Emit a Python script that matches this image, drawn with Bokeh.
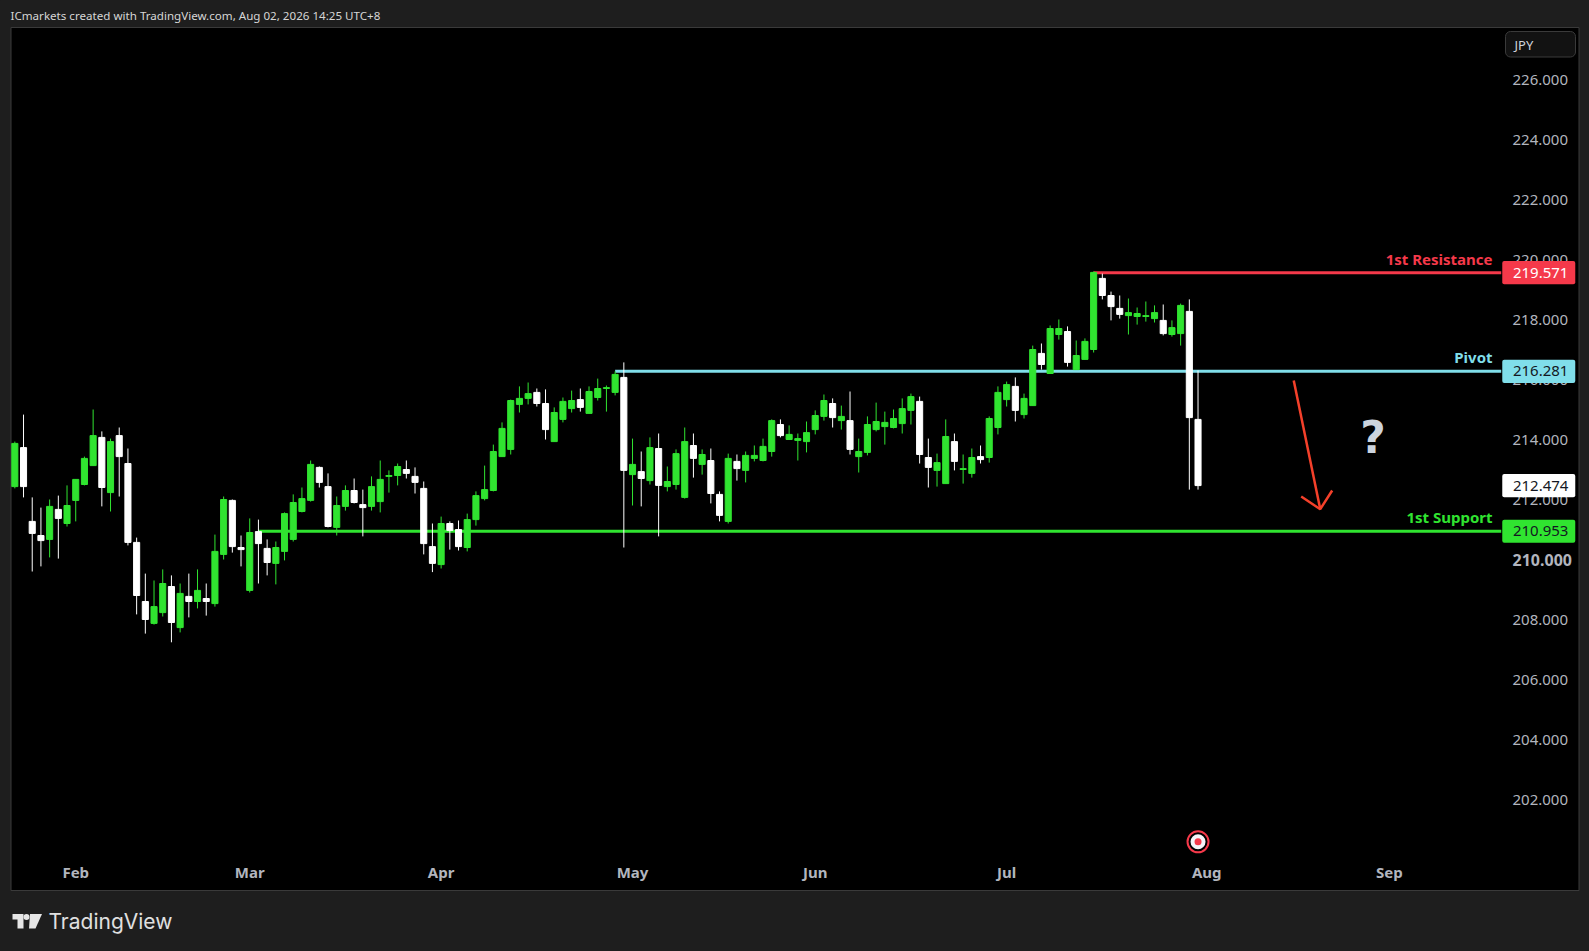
from bokeh.plotting import figure
from bokeh.embed import file_html
from bokeh.resources import INLINE
from bokeh.models import Range1d, LinearAxis, FixedTicker, PrintfTickFormatter, ColumnDataSource
from bokeh.core.properties import value

FONT = "Noto Sans"
BG = "#1e1e1e"
GREEN = "#30e430"
RED = "#f5394a"
CYAN = "#80deea"
AXIS_TEXT = "#b2b5be"

# ---- daily candles (JPY) ----
highs = [213.94,214.84,212.08,211.74,212.01,212.14,212.48,212.68,213.44,215.01,214.28,214.04,214.41,213.71,210.74,209.54,209.31,209.68,209.48,209.21,209.54,209.68,209.21,210.84,212.11,212.01,210.81,211.38,211.34,210.68,210.61,211.58,212.18,212.41,213.31,
         213.11,212.88,212.11,212.48,212.71,212.34,212.78,213.31,212.98,213.21,213.31,213.08,212.61,211.21,211.44,211.28,211.31,211.54,212.28,213.14,213.84,214.58,215.34,215.78,215.91,215.71,215.68,215.08,215.41,215.64,215.71,215.78,216.04,215.81,216.28,
         216.58,214.04,213.61,214.08,214.21,213.11,213.68,214.41,214.21,213.68,213.71,212.28,213.54,213.51,213.61,213.81,214.04,214.68,214.68,214.48,214.21,214.61,214.98,215.51,215.38,215.14,215.61,214.04,214.78,215.24,214.94,215.01,215.38,215.54,
         215.44,214.04,213.54,214.68,214.21,213.51,213.71,213.81,214.78,215.78,215.94,216.08,215.54,217.14,217.21,217.81,218.01,217.78,217.31,217.38,219.61,219.54,218.94,218.81,218.71,218.41,218.61,218.48,218.51,217.98,218.54,218.68,216.31]
body_highs = [213.88,213.74,211.28,210.81,211.78,211.68,211.81,212.68,213.38,214.14,214.08,213.94,214.14,213.21,210.58,208.61,208.44,209.21,209.11,208.88,208.78,208.98,208.71,210.28,212.01,211.98,210.41,210.91,210.94,210.38,210.41,211.54,211.91,212.04,213.18,
              213.08,212.44,211.81,212.31,212.31,211.84,212.44,212.68,212.81,213.11,213.01,212.78,212.38,210.44,211.21,211.21,211.01,211.34,212.14,212.34,213.61,214.38,215.31,215.38,215.54,215.58,215.21,214.91,215.28,215.31,215.34,215.61,215.71,215.74,216.18,
              216.08,213.18,212.94,213.74,213.71,212.61,213.54,213.94,213.81,213.51,213.31,212.18,213.38,213.28,213.48,213.48,213.78,214.64,214.51,214.18,214.04,214.24,214.81,215.31,215.21,214.78,214.64,213.61,214.51,214.61,214.58,214.71,215.04,215.44,
              215.28,213.41,213.24,214.11,213.94,213.04,213.41,213.44,214.71,215.58,215.84,215.78,215.38,217.01,216.88,217.71,217.71,217.61,216.81,217.28,219.58,219.38,218.81,218.38,218.24,218.21,218.14,218.24,217.98,217.74,218.48,218.28,214.68]
body_lows = [212.44,212.44,210.88,210.64,210.68,211.38,211.21,211.98,212.51,213.14,212.41,212.24,213.44,210.58,208.81,208.01,207.88,208.24,207.91,207.74,208.61,208.61,208.61,208.54,210.18,210.44,210.34,208.98,210.54,209.91,209.88,210.28,210.68,211.61,211.98,
             212.58,211.11,211.08,211.78,211.91,211.74,211.78,211.94,212.78,212.81,212.88,212.58,210.54,209.88,209.84,210.98,210.44,210.41,211.34,212.04,212.31,213.44,213.68,215.18,215.38,215.21,214.34,213.94,214.68,215.04,215.08,214.88,215.41,215.71,215.58,
             212.98,212.84,212.71,212.64,212.48,212.44,212.51,212.08,213.38,213.18,212.21,211.48,211.28,213.04,212.98,213.38,213.31,213.61,214.14,214.01,213.98,213.94,214.34,214.78,214.74,214.64,213.68,213.44,213.58,214.34,214.44,214.41,214.54,214.98,
             213.51,213.08,212.98,212.54,213.28,213.01,212.88,213.34,213.41,214.41,215.34,214.98,214.84,215.14,216.51,216.21,217.51,216.58,216.34,216.68,217.01,218.81,218.44,218.18,218.14,218.11,218.11,218.04,217.54,217.51,217.54,214.74,212.474]
lows = [212.38,212.08,209.61,209.78,210.08,210.04,211.11,211.28,212.48,213.14,211.78,211.61,212.11,210.48,208.18,207.54,207.84,208.11,207.25,207.58,208.08,208.38,208.14,208.44,210.01,210.24,209.78,208.91,209.21,209.48,209.18,209.98,210.61,211.58,211.94,
        212.41,211.08,210.81,211.64,211.88,210.78,211.64,211.58,212.24,212.48,212.71,212.21,210.18,209.59,209.71,210.34,210.31,210.28,211.14,211.98,212.28,213.44,213.51,214.91,215.18,215.11,214.01,213.94,214.58,214.91,214.94,214.88,215.31,214.94,215.48,
        210.41,211.81,211.78,212.51,210.78,212.28,212.34,212.04,212.74,212.84,211.88,211.28,211.21,212.64,212.58,213.28,213.28,213.44,214.08,214.01,213.31,213.58,214.18,214.64,214.41,214.34,213.51,212.91,213.48,214.28,213.84,214.38,214.21,214.51,
        213.21,212.41,212.44,212.54,212.98,212.54,212.74,213.21,213.24,214.18,215.11,214.61,214.71,215.14,216.34,216.21,217.34,216.44,216.34,216.68,216.91,218.68,217.98,218.04,217.51,217.84,217.94,217.91,217.48,217.44,217.14,212.34,212.34]
# g = close above open, w = close below open; bars 1 to 137
directions = list(
    "gwwwgwgggg" "wgwwwwggwg" "wgwggwwgww" "gggggwwggw" "wggggwwwwg"
    "wwgggggggg" "wwgggwgggg" "wgwgwgggwg" "wwgwggggwg" "ggggwgwggg"
    "ggggwwggwg" "gwgggwggwg" "gwgggwwwgg" "ggwggww"
)
bars = list(range(len(highs)))
assert len(highs) == len(lows) == len(body_highs) == len(body_lows) == len(directions) == 137

month_bars = [7, 27, 49, 71, 92, 114, 137, 158]
month_names = ["Feb", "Mar", "Apr", "May", "Jun", "Jul", "Aug", "Sep"]
price_ticks = [202, 204, 206, 208, 212, 214, 216, 218, 220, 222, 224, 226]
major_price_tick = [210]

level_names = ["1st Resistance", "Pivot", "1st Support"]
level_prices = [219.571, 216.281, 210.953]
level_start_bars = [124, 69, 28]
level_colors = [RED, CYAN, GREEN]
level_text_colors = ["#ffffff", "#131722", "#131722"]
last_price = 212.474

arrow_bars = [147.0, 150.05]
arrow_prices = [215.977, 211.687]
arrowhead_bars = [147.86, 150.05, 151.42]
arrowhead_prices = [212.11, 211.687, 212.31]

# the scale: one bar = 8.7 px, one yen = 30 px; used for chrome placed by pixel
def bx(px): return (px - 14.33) / 8.7
def py(y): return 218 - (y - 319.3) / 30

p = figure(width=1589, height=951, output_backend="svg", toolbar_location=None,
           x_range=Range1d(bx(0), bx(1589)), y_range=Range1d(py(951), py(0)),
           x_axis_location=None, y_axis_location=None,
           min_border_left=0, min_border_right=0, min_border_top=0, min_border_bottom=0,
           background_fill_color=BG, border_fill_color=BG, outline_line_color=None)
p.grid.visible = False

# chart pane
p.quad(left=[bx(10.5)], right=[bx(1578.5)], top=[py(27)], bottom=[py(890)],
       fill_color="#000000", line_color="#3a3a3a", line_width=1)

# levels
LINE_END = 170.85
p.segment(x0=level_start_bars, x1=[LINE_END] * 3, y0=level_prices, y1=level_prices,
          line_color=level_colors, line_width=3)

# candles
colors = [GREEN if d == "g" else "#ffffff" for d in directions]
src = ColumnDataSource(dict(x=bars, h=highs, l=lows, t=body_highs, b=body_lows, c=colors))
p.segment(x0="x", x1="x", y0="l", y1="h", line_color="c", line_width=1, source=src)
p.vbar(x="x", width=0.7, top="t", bottom="b", fill_color="c", line_color="c", line_width=1, source=src)

# axes drawn inside the black pane
def price_axis(ticks, style, size):
    ax = LinearAxis(ticker=FixedTicker(ticks=ticks), formatter=PrintfTickFormatter(format="%.3f"),
                    fixed_location=172.15, axis_line_color=None, major_tick_line_color=None,
                    minor_tick_line_color=None, major_label_standoff=0,
                    major_tick_in=0, major_tick_out=0,
                    major_label_text_color=AXIS_TEXT, major_label_text_font=FONT,
                    major_label_text_font_size=size, major_label_text_font_style=style)
    p.add_layout(ax, "right")

price_axis(price_ticks, "normal", "15px")
price_axis(major_price_tick, "bold", "16px")

xax = LinearAxis(ticker=FixedTicker(ticks=month_bars),
                 major_label_overrides=dict(zip(month_bars, month_names)),
                 fixed_location=199.94, axis_line_color=None, major_tick_line_color=None,
                 minor_tick_line_color=None, major_label_standoff=0,
                 major_tick_in=0, major_tick_out=0,
                 major_label_text_color=AXIS_TEXT, major_label_text_font=FONT,
                 major_label_text_font_size="15px", major_label_text_font_style="bold")
p.add_layout(xax, "below")

# price tags
tag_prices = level_prices + [last_price]
tag_colors = level_colors + ["#ffffff"]
tag_text = level_text_colors + ["#131722"]
HALF = 0.385
p.quad(left=[170.97] * 4, right=[179.36] * 4,
       top=[v + HALF for v in tag_prices], bottom=[v - HALF for v in tag_prices],
       fill_color=tag_colors, line_color=None, border_radius=2, level="overlay")
p.text(x=[175.38] * 4, y=tag_prices, text=[f"{v:.3f}" for v in tag_prices], text_color=tag_text,
       text_font=value(FONT), text_font_size="15px", text_align="center", text_baseline="middle",
       level="overlay")
p.text(x=[169.85] * 3, y=level_prices, text=level_names, text_color=level_colors,
       y_offset=-14, text_font=value(FONT), text_font_size="15px", text_font_style="bold",
       text_align="right", text_baseline="middle", level="overlay")

# arrow and question mark
ARROW = "#f4402a"
p.line(arrow_bars, arrow_prices, line_color=ARROW, line_width=2.5)
p.line(arrowhead_bars, arrowhead_prices, line_color=ARROW, line_width=2.5)
p.text(x=[156.1], y=[214.09], text=["?"], text_color="#ccd4de", text_font=value("DejaVu Sans"),
       text_font_size="44px", text_font_style="bold", text_align="center", text_baseline="middle")

# marker under the last bar
p.scatter(x=[136], y=[200.6], size=21, marker="circle", fill_color="#000000", line_color=RED, line_width=2)
p.scatter(x=[136], y=[200.6], size=15, marker="circle", fill_color="#f4f4f8", line_color=None)
p.scatter(x=[136], y=[200.6], size=7, marker="circle", fill_color=RED, line_color=None)

# currency button
p.quad(left=[bx(1505)], right=[bx(1575)], top=[py(31)], bottom=[py(56.5)], fill_color="#121212",
       line_color="#3a3a3a", border_radius=5, level="overlay")
p.text(x=[bx(1514)], y=[py(44)], text=["JPY"], text_color="#d1d4dc", text_font=value(FONT),
       text_font_size="13px", text_align="left", text_baseline="middle", level="overlay")

# header and footer on the dark page background
p.text(x=[bx(10)], y=[py(15)], text=["ICmarkets created with TradingView.com, Aug 02, 2026 14:25 UTC+8"],
       text_color="#d6d6d6", text_font=value(FONT), text_font_size="11.6px",
       text_baseline="middle", text_align="left")
p.text(x=[bx(48)], y=[py(921)], text=["TradingView"], text_color="#e0e0e0", text_font=value("Inter"),
       text_font_size="21px", text_baseline="middle", text_align="left")

# TradingView mark
def logo(pts):
    p.patch([bx(a) for a, b in pts], [py(b) for a, b in pts], fill_color="#e6e6e6", line_color=None)
logo([(12, 913.5), (23, 913.5), (23, 928), (17, 928), (17, 919), (12, 919)])
logo([(29.5, 913.5), (41.5, 913.5), (35, 928), (28.5, 928)])
p.scatter(x=[bx(26)], y=[py(916.5)], size=6, marker="circle", fill_color="#e6e6e6", line_color=None)

TEMPLATE = """{% block preamble %}<style>html,body{margin:0;padding:0;background:#1e1e1e;overflow:hidden}</style>{% endblock %}
"""
open("out.html", "w").write(file_html(p, INLINE, template=TEMPLATE))
